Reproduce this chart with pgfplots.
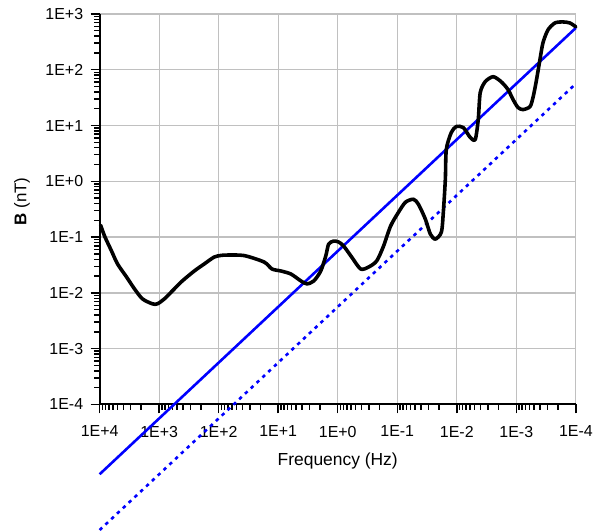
\documentclass[border=0pt]{standalone}
\usepackage{pgfplots}
\pgfplotsset{compat=1.18}
\usepackage{fontspec}
\setmainfont{Liberation Sans}
\definecolor{gridgray}{RGB}{192,192,192}
\begin{document}
\begin{tikzpicture}
\begin{axis}[
  scale only axis, width=478pt, height=392pt,
  xmode=log, ymode=log, x dir=reverse,
  xmin=1e-4, xmax=1e4, ymin=1e-4, ymax=1e3,
  axis lines*=left, clip=false,
  axis line style={black, line width=2pt},
  xtick={1e4,1e3,100,10,1,0.1,0.01,0.001,0.0001},
  xticklabels={1E+4,1E+3,1E+2,1E+1,1E+0,1E-1,1E-2,1E-3,1E-4},
  ytick={1e-4,1e-3,0.01,0.1,1,10,100,1000},
  yticklabels={1E-4,1E-3,1E-2,1E-1,1E+0,1E+1,1E+2,1E+3},
  minor xtick={2e-4,3e-4,4e-4,5e-4,6e-4,7e-4,8e-4,9e-4,
    2e-3,3e-3,4e-3,5e-3,6e-3,7e-3,8e-3,9e-3,
    0.02,0.03,0.04,0.05,0.06,0.07,0.08,0.09,
    0.2,0.3,0.4,0.5,0.6,0.7,0.8,0.9,
    2,3,4,5,6,7,8,9,
    20,30,40,50,60,70,80,90,
    200,300,400,500,600,700,800,900,
    2000,3000,4000,5000,6000,7000,8000,9000},
  minor ytick={2e-4,3e-4,4e-4,5e-4,6e-4,7e-4,8e-4,9e-4,
    2e-3,3e-3,4e-3,5e-3,6e-3,7e-3,8e-3,9e-3,
    0.02,0.03,0.04,0.05,0.06,0.07,0.08,0.09,
    0.2,0.3,0.4,0.5,0.6,0.7,0.8,0.9,
    2,3,4,5,6,7,8,9,
    20,30,40,50,60,70,80,90,
    200,300,400,500,600,700,800,900},
  tick align=outside,
  major tick length=9pt, minor tick length=5.5pt,
  every tick/.style={black, line width=1.5pt},
  xmajorgrids, ymajorgrids,
  major grid style={gridgray, line width=1.3pt},
  /pgf/number format/assume math mode=true,
  tick label style={font=\fontsize{16}{18}\selectfont},
  xticklabel style={yshift=-9pt},
  yticklabel style={xshift=-4pt},
  xlabel={Frequency (Hz)},
  ylabel={\textbf{B} (nT)},
  xlabel style={font=\fontsize{17.5}{20}\selectfont, at={(axis description cs:0.5,-0.1454)}, anchor=center},
  ylabel style={font=\fontsize{17}{20}\selectfont, at={(axis description cs:-0.163,0.52)}, anchor=center},
]
\addplot[blue, line width=2.6pt] coordinates {(1e4,5.62e-6) (1e-4,562)};
\addplot[blue, line width=2.6pt, dash pattern=on 3.5pt off 4.5pt] coordinates {(1e4,5.62e-7) (1e-4,56.2)};
\addplot[black, line width=3.6pt, line join=round, line cap=round, smooth, tension=0.45] coordinates {
(9620,0.164) (8245,0.104) (6300,0.0562) (5000,0.0330) (3532,0.0193) (2595,0.0118)
(1906,0.00781) (1297,0.00637) (1070,0.00637) (817,0.00781) (556,0.0118) (408,0.0164)
(257,0.0247) (175,0.0330) (119,0.0439) (90.8,0.0470) (72.1,0.0477) (37.4,0.0467)
(17.3,0.0358) (12.7,0.0268) (9.0,0.0247) (6.12,0.0218) (4.16,0.0164) (3.30,0.0145)
(2.52,0.0164) (1.93,0.0247) (1.59,0.0458) (1.42,0.0750) (1.17,0.0849) (0.962,0.0815)
(0.794,0.0690) (0.583,0.0439) (0.412,0.0268) (0.303,0.0291) (0.222,0.0373) (0.170,0.0690)
(0.1297,0.157) (0.0953,0.279) (0.0728,0.422) (0.0535,0.477) (0.0441,0.388) (0.0337,0.2095)
(0.0278,0.1133) (0.0229,0.0921) (0.01815,0.1227) (0.01683,0.279) (0.01557,1.086) (0.0150,3.73)
(0.01237,7.50) (0.01019,9.60) (0.00778,9.21) (0.00594,6.11) (0.00490,5.62) (0.00436,12.8)
(0.00404,38.8) (0.00333,61.1) (0.00245,75.0) (0.00180,61.1) (0.001374,43.9) (0.001132,29.1)
(0.000935,21.0) (0.000771,19.3) (0.000589,21.8) (0.000525,31.6) (0.000467,58.6) (0.000401,151)
(0.000357,303) (0.000294,518) (0.000224,690) (0.000165,719) (0.000126,690) (0.0001,586)
};
\end{axis}
\path ([xshift=-100pt,yshift=-127pt]current axis.south west) rectangle ([xshift=18pt,yshift=14pt]current axis.north east);
\end{tikzpicture}
\end{document}
